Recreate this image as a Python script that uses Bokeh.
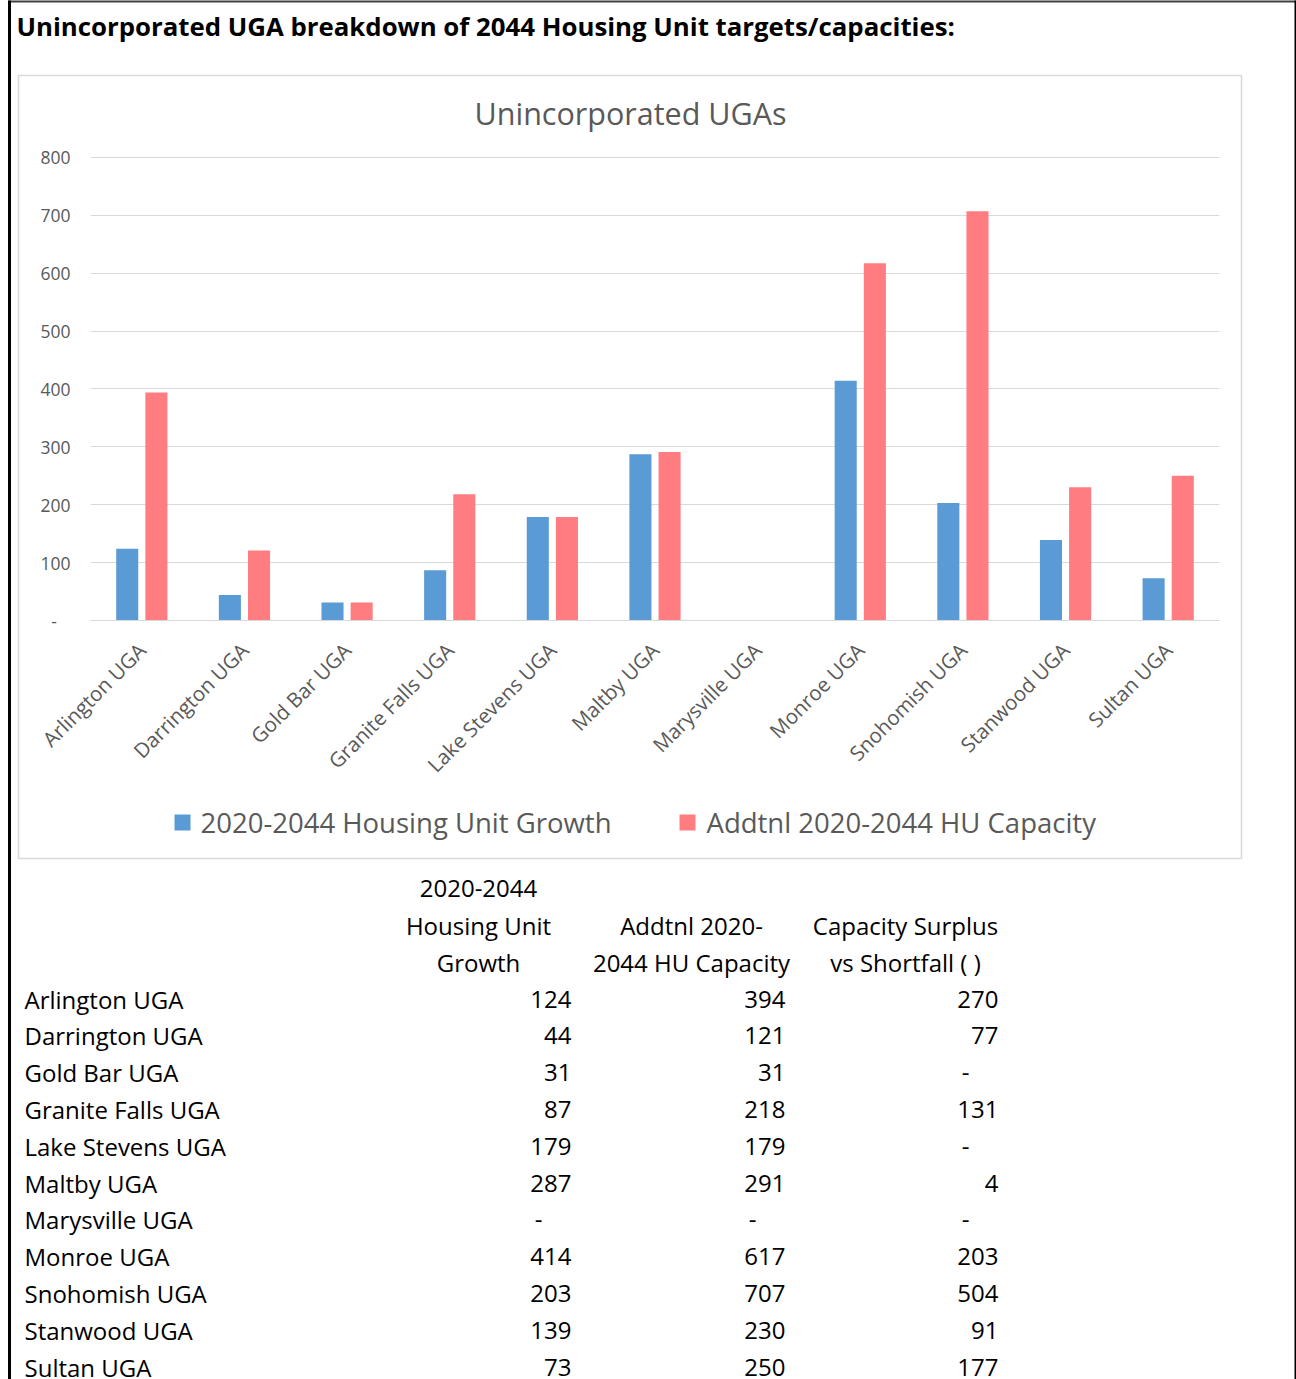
from math import pi
from bokeh.plotting import figure
from bokeh.models import Range1d, FixedTicker, ColumnDataSource
from bokeh.transform import dodge
from bokeh.core.properties import value
from bokeh.embed import file_html
from bokeh.resources import INLINE

# ---------------- data ----------------
categories = ["Arlington UGA", "Darrington UGA", "Gold Bar UGA", "Granite Falls UGA",
              "Lake Stevens UGA", "Maltby UGA", "Marysville UGA", "Monroe UGA",
              "Snohomish UGA", "Stanwood UGA", "Sultan UGA"]
growth = [124, 44, 31, 87, 179, 287, 0, 414, 203, 139, 73]
capacity = [394, 121, 31, 218, 179, 291, 0, 617, 707, 230, 250]
surplus = [270, 77, 0, 131, 0, 4, 0, 203, 504, 91, 177]
y_ticks = [0, 100, 200, 300, 400, 500, 600, 700, 800]
y_tick_labels = ["-\u00a0\u00a0\u00a0", "100", "200", "300", "400", "500", "600", "700", "800"]
series_names = ["2020-2044 Housing Unit Growth", "Addtnl 2020-2044 HU Capacity"]
chart_title = "Unincorporated UGAs"
page_title = "Unincorporated UGA breakdown of 2044 Housing Unit targets/capacities:"
header_growth = ["2020-2044", "Housing Unit", "Growth"]
header_capacity = ["Addtnl 2020-", "2044 HU Capacity"]
header_surplus = ["Capacity Surplus", "vs Shortfall ( )"]

# ---------------- styles ----------------
BLUE = "#5B9BD5"
PINK = "#FF7C80"
GRID = "#D9D9D9"
TXT = "#595959"
FONT = "Open Sans"

W, H = 1296, 1379
FL, FR, FT, FB = 90, 1219, 154, 620

n = len(categories)
idx = list(range(n))

p = figure(width=W, height=H, x_range=Range1d(-0.5, n - 0.5), y_range=Range1d(0, 805),
           output_backend="svg", toolbar_location=None,
           min_border_left=FL, min_border_right=W - FR,
           min_border_top=FT, min_border_bottom=H - FB)
p.outline_line_color = None
p.background_fill_color = "white"
p.border_fill_color = "white"
p.extra_x_ranges = {"px": Range1d(FL, FR)}
p.extra_y_ranges = {"px": Range1d(FB, FT)}

src = ColumnDataSource(dict(idx=idx, cat=categories, growth=growth, capacity=capacity))
p.vbar(x=dodge("idx", -0.142), top="growth", width=0.215, bottom=0,
       source=src, fill_color=BLUE, line_color=None)
p.vbar(x=dodge("idx", 0.142), top="capacity", width=0.215, bottom=0,
       source=src, fill_color=PINK, line_color=None)

# axes
p.yaxis.ticker = FixedTicker(ticks=y_ticks)
p.yaxis.major_label_overrides = {t: l for t, l in zip(y_ticks, y_tick_labels)}
p.yaxis.axis_line_color = None
p.yaxis.major_tick_line_color = None
p.yaxis.minor_tick_line_color = None
p.yaxis.major_tick_out = 0
p.yaxis.major_label_standoff = 20
p.yaxis.major_label_text_color = TXT
p.yaxis.major_label_text_font = FONT
p.yaxis.major_label_text_font_size = "17.5px"

p.xaxis.ticker = FixedTicker(ticks=idx)
p.xaxis.major_label_overrides = {i: c for i, c in zip(idx, categories)}
p.xaxis.axis_line_color = GRID
p.xaxis.major_tick_line_color = None
p.xaxis.minor_tick_line_color = None
p.xaxis.major_tick_out = 0
p.xaxis.major_label_orientation = pi / 4
p.xaxis.major_label_standoff = 26
p.xaxis.major_label_text_color = TXT
p.xaxis.major_label_text_font = FONT
p.xaxis.major_label_text_font_size = "20.5px"

p.xgrid.grid_line_color = None
p.ygrid.ticker = FixedTicker(ticks=y_ticks)
p.ygrid.grid_line_color = GRID

PX = dict(x_range_name="px", y_range_name="px", level="overlay")

def txt(x, y, t, size, align="left", color="black", style="normal"):
    p.text(x=x, y=y, text=t, text_font=value(FONT), text_font_size=size,
           text_align=align, text_baseline="middle", text_color=color,
           text_font_style=style, **PX)

# page border
p.segment(x0=[8], y0=[1], x1=[1296], y1=[1], line_color="#404040", line_width=2, **PX)
p.segment(x0=[9], y0=[0], x1=[9], y1=[H], line_color="black", line_width=3, **PX)
p.segment(x0=[1295], y0=[0], x1=[1295], y1=[H], line_color="black", line_width=2, **PX)

# chart box
p.quad(left=[18], right=[1241], top=[75], bottom=[858], fill_color=None,
       line_color=GRID, line_width=1.5, **PX)

# titles
txt([16], [25], [page_title], "25.8px", style="bold")
txt([630], [112], [chart_title], "30.5px", align="center", color=TXT)

# legend
p.rect(x=[182, 687], y=[822, 822], width=16, height=16, fill_color=[BLUE, PINK],
       line_color=None, **PX)
txt([200, 706], [822, 822], series_names, "27.5px", color=TXT)

# table
TS = "24px"
row_y = [998.5 + 36.8 * i for i in range(n)]
txt([24] * n, row_y, categories, TS)

def col(vals, right):
    xs = [right - 29 if v == 0 else right for v in vals]
    ts = ["-" if v == 0 else f"{v:,}" for v in vals]
    txt(xs, row_y, ts, TS, align="right")

col(growth, 571)
col(capacity, 785)
col(surplus, 998)

txt([478] * 3, [888, 925, 962], header_growth, TS, align="center")
txt([691] * 2, [925, 962], header_capacity, TS, align="center")
txt([905] * 2, [925, 962], header_surplus, TS, align="center")

open("out.html", "w").write(file_html(p, INLINE))
